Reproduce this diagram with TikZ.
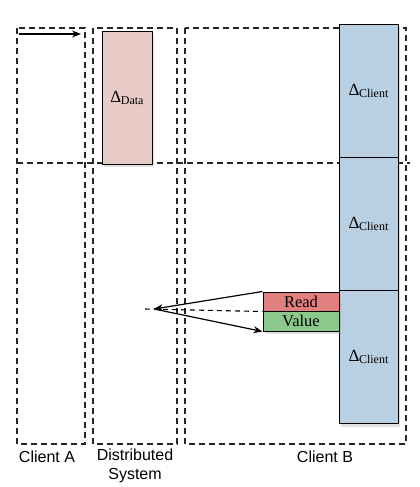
\documentclass[tikz,border=0pt]{standalone}
\usepackage{fontspec}
\setmainfont{Liberation Serif}
\setsansfont{Liberation Sans}
\usetikzlibrary{arrows.meta,shadows}
\definecolor{pinkfill}{RGB}{232,202,198}
\definecolor{bluefill}{RGB}{184,208,226}
\definecolor{readfill}{RGB}{226,128,128}
\definecolor{valuefill}{RGB}{140,200,140}
\tikzset{
  lane/.style={draw=black!85, line width=1.2pt, dash pattern=on 6pt off 4pt},
  blk/.style={draw=black, line width=1pt, drop shadow={opacity=0.25, shadow xshift=2pt, shadow yshift=-3pt}},
  dlabel/.style={font=\fontsize{17}{18}\selectfont},
  rv/.style={font=\fontsize{16.5}{17}\selectfont},
  lbl/.style={font=\sffamily\fontsize{16}{19}\selectfont, align=center},
  arr/.style={line width=1.2pt, -{Stealth[length=9pt,width=7pt]}},
}
\newcommand{\dlt}[1]{Δ\hspace{-0.5pt}\raisebox{-0.2ex}{\fontsize{12}{12}\selectfont #1}}
\begin{document}
\begin{tikzpicture}[x=1pt,y=-1pt]
\useasboundingbox (0,0) rectangle (420,487);
% lanes
\draw[lane] (17,28) rectangle (85,444);
\draw[lane] (93,28) rectangle (177,444);
\draw[lane] (185,28) rectangle (406,444);
\draw[lane] (17,163) -- (410,163);
% data block
\node[blk, fill=pinkfill, minimum width=50pt, minimum height=132pt, inner sep=0pt] (data) at (127,98) {};
\node[dlabel] at (data.center) {\dlt{Data}};
% client blocks
\node[blk, fill=bluefill, minimum width=59pt, minimum height=133pt, inner sep=0pt] (c1) at (368.5,91) {};
\node[blk, fill=bluefill, minimum width=59pt, minimum height=133pt, inner sep=0pt] (c2) at (368.5,224) {};
\node[blk, fill=bluefill, minimum width=59pt, minimum height=133pt, inner sep=0pt] (c3) at (368.5,357) {};
\node[dlabel] at (c1.center) {\dlt{Client}};
\node[dlabel] at (c2.center) {\dlt{Client}};
\node[dlabel] at (c3.center) {\dlt{Client}};
% read/value
\node[blk, fill=readfill, minimum width=76pt, minimum height=19pt, inner sep=0pt, rv] (read) at (301,301.5) {Read};
\node[blk, fill=valuefill, minimum width=76pt, minimum height=20pt, inner sep=0pt, rv] (value) at (301,321) {Value};
% arrows
\coordinate (mid) at (154,309);
\coordinate (dend) at (145,309);
\draw[line width=1.1pt, dash pattern=on 5pt off 4pt] (dend) -- (read.south west);
\draw[arr] (read.north west) -- (mid);
\draw[arr] (mid) -- (value.south west);
% top-left arrow
\coordinate (a1) at (19,34);
\coordinate (a2) at (81,34);
\draw[arr] (a1) -- (a2);
% labels
\node[lbl] (la) at (47,457) {Client A};
\node[lbl] (ld) at (135,466) {Distributed\\System};
\node[lbl] (lb) at (325,457) {Client B};
\end{tikzpicture}
\end{document}
